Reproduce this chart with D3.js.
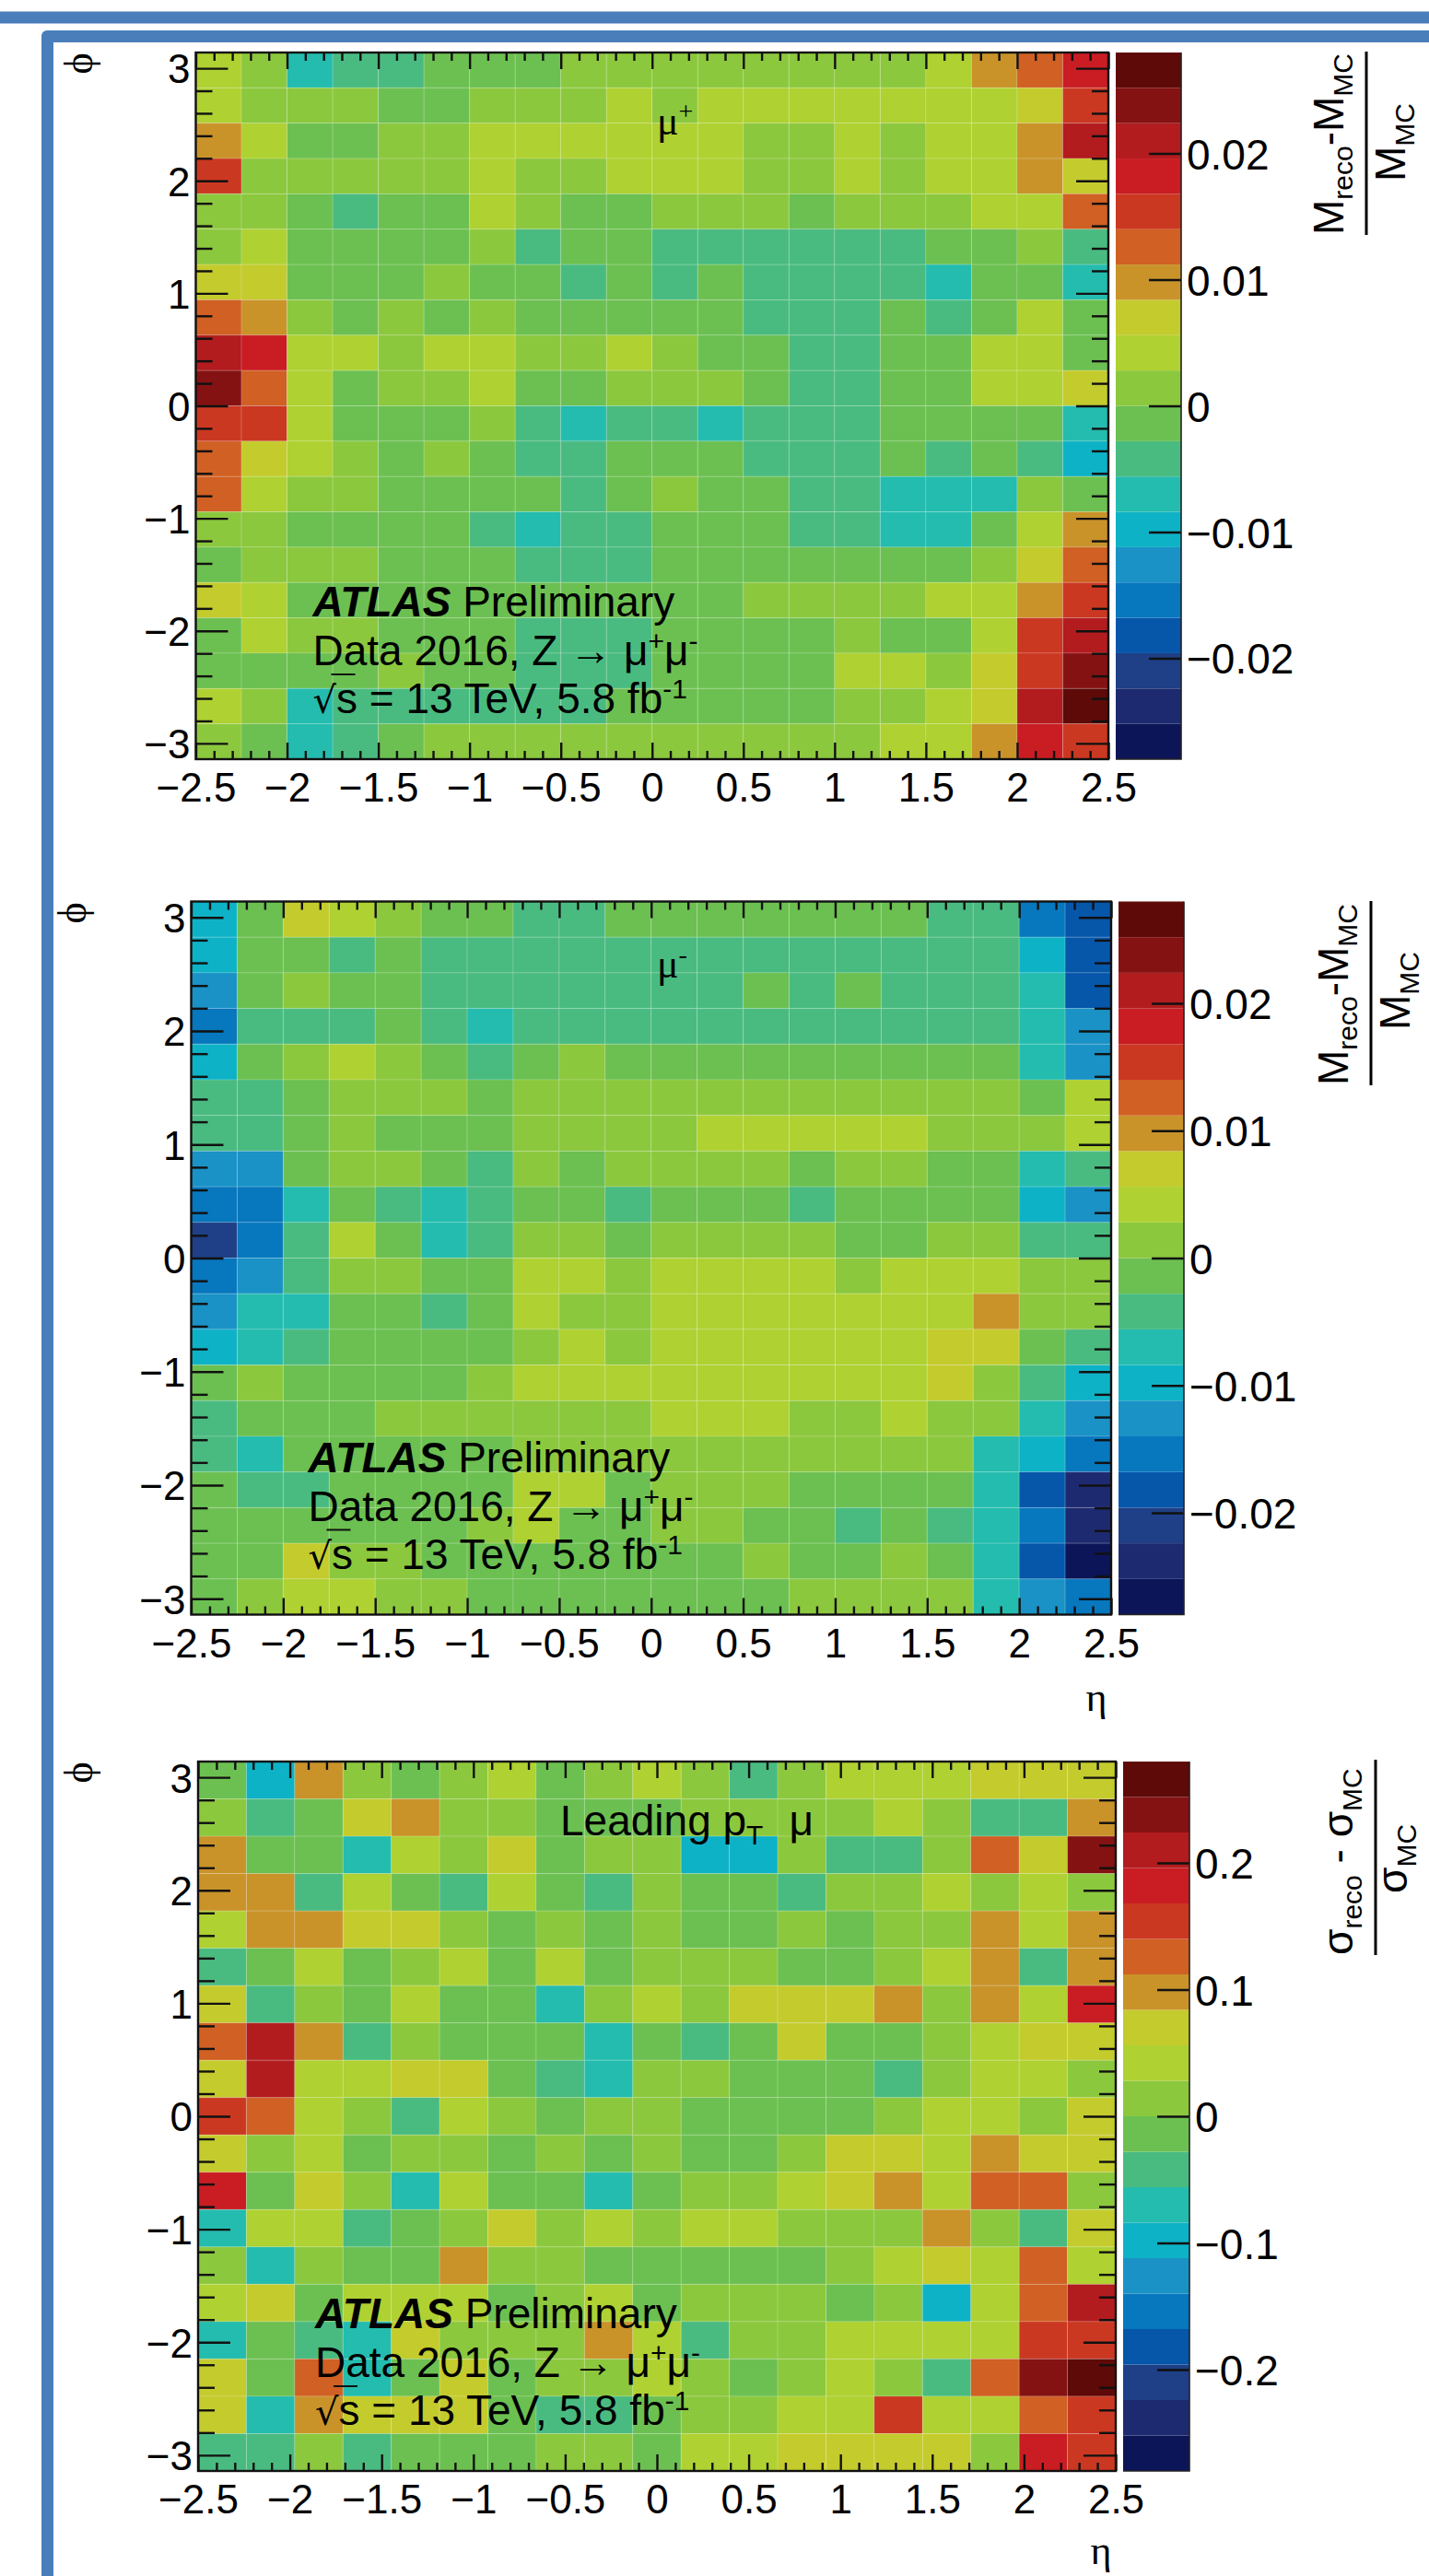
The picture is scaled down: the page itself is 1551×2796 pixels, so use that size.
<!DOCTYPE html>
<html>
<head>
<meta charset="utf-8">
<style>
  body { margin: 0; background: #fff; }
  text { font-family: "Liberation Sans", Arial, sans-serif; fill: #000; }
  .serif { font-family: "Liberation Serif", "DejaVu Serif", serif; }
</style>
<script src="https://cdn.jsdelivr.net/npm/d3@7"></script>
</head>
<body>
<svg id="chart" width="1551" height="2796"></svg>
<script>
// colour levels of the palette, bottom of the colour bar first
const levelColors = [
  "#0c1558", "#1e2a70", "#1f3f86", "#0656aa", "#0777be",
  "#1a92c6", "#0eb2c6", "#24bcae", "#4abb80", "#6cc051",
  "#8cc83e", "#afd132", "#c4cb2d", "#c9932a", "#d06023",
  "#cb3822", "#c91d23", "#b21c1f", "#851213", "#5e0a08",
];

const etaTicks = [-2.5, -2, -1.5, -1, -0.5, 0, 0.5, 1, 1.5, 2, 2.5];
const phiTicks = [-3, -2, -1, 0, 1, 2, 3];

// each cell is the contour level it falls in, -10 .. 9, first row is top (phi = pi)
const muPlus = [
  [1,0,-3,-2,-2,-1,-1,-1,0,0,0,0,0,0,0,0,1,3,4,6],
  [1,0,0,0,-1,-1,0,0,0,1,0,1,1,1,1,1,1,1,2,5],
  [3,1,-1,-1,0,0,1,1,1,1,1,1,0,0,1,0,1,1,3,7],
  [5,0,0,0,0,0,1,0,0,1,1,1,0,0,1,0,1,1,3,2],
  [0,0,-1,-2,-1,-1,1,0,-1,-1,0,0,0,-1,0,0,0,1,1,4],
  [0,1,-1,-1,-1,-1,0,-2,-1,-1,-2,-2,-2,-2,-2,-2,-1,-1,0,-2],
  [2,2,-1,-1,-1,0,-1,-1,-2,-1,-2,-1,-2,-2,-2,-2,-3,-1,-1,-3],
  [4,3,0,-1,0,-1,0,-1,-1,-1,-1,-1,-2,-2,-2,-1,-2,-1,1,-1],
  [7,6,1,1,0,1,1,0,0,1,0,-1,-1,-2,-2,-1,-1,1,1,-1],
  [8,4,1,-1,0,0,1,-1,-1,0,0,0,-1,-2,-2,-1,-1,1,1,2],
  [5,5,1,-1,-1,-1,0,-2,-3,-2,-2,-3,-2,-2,-2,-1,-1,-1,-1,-3],
  [4,2,1,0,-1,0,-1,-2,-2,-1,-1,-1,-2,-2,-2,-1,-2,-1,-2,-4],
  [4,1,0,0,-1,-1,-1,-1,-2,-1,0,-1,-1,-2,-2,-3,-3,-3,0,-1],
  [0,0,-1,-1,-1,-1,-2,-3,-2,-2,-1,-1,-1,-2,-2,-3,-3,-1,1,3],
  [-1,0,0,0,-1,-1,-1,-2,-2,-2,-1,-1,-1,-1,-1,-1,-1,0,2,4],
  [2,1,-1,-1,-1,-1,-1,-1,-1,-1,-1,-1,0,0,0,0,1,1,3,5],
  [-1,1,0,0,-1,-1,-1,-2,-2,-2,-1,-1,-1,-1,0,-1,-1,1,5,7],
  [-1,-1,-1,-1,0,-1,-1,-2,-2,-2,-1,-1,-1,-1,1,1,0,2,5,8],
  [1,0,-3,-2,-2,-2,-2,-2,-2,-1,-1,-1,-1,-1,0,0,1,2,7,9],
  [0,-1,-3,-2,-1,0,0,0,0,0,0,0,0,0,0,1,1,3,6,5],
];

const muMinus = [
  [-4,-1,2,1,0,-1,-1,-2,-2,-1,-1,-1,-1,-1,-1,-1,-2,-2,-6,-7],
  [-4,-1,-1,-2,-1,-2,-2,-2,-2,-2,-2,-2,-2,-2,-2,-2,-2,-2,-4,-7],
  [-5,-1,0,-1,-1,-2,-2,-2,-2,-2,-2,-2,-1,-2,-1,-2,-2,-2,-3,-7],
  [-6,-2,-2,-2,-1,-2,-3,-2,-2,-2,-2,-2,-2,-2,-2,-2,-2,-2,-3,-5],
  [-4,-1,0,1,0,-1,-2,-1,0,-1,-1,-1,-1,-1,-1,-1,-1,-1,-3,-5],
  [-2,-2,-1,0,0,0,-1,0,0,0,0,0,0,0,0,0,0,0,-1,1],
  [-2,-2,-1,0,-1,-1,-1,0,0,0,0,1,1,1,1,1,0,0,0,1],
  [-5,-5,-1,0,0,-1,-2,0,-1,0,0,0,0,-1,0,0,-1,-1,-3,-2],
  [-6,-6,-3,-1,-2,-3,-2,-1,-1,-2,-1,-1,-1,-2,-1,-1,-1,-1,-4,-5],
  [-8,-6,-2,1,-1,-3,-2,0,0,-1,0,0,0,0,-1,-1,0,0,-2,-2],
  [-6,-5,-2,0,0,-1,-1,1,1,0,1,1,1,1,0,1,1,1,0,0],
  [-5,-3,-3,-1,-1,-2,-1,1,0,0,1,1,1,1,1,1,1,3,0,0],
  [-4,-3,-2,-1,-1,-1,-1,0,1,0,1,1,1,1,1,1,2,2,-1,-2],
  [-1,0,-1,-1,-1,-1,0,1,1,1,1,1,1,1,1,1,2,0,-2,-4],
  [-2,-1,-1,-1,0,0,0,0,0,0,1,1,1,0,0,1,0,0,-3,-5],
  [-2,-3,-1,-1,-1,-1,-1,0,0,0,0,0,0,0,0,0,0,-3,-4,-6],
  [-1,-2,-2,-1,-1,-1,-1,1,1,-1,0,0,0,-1,-1,-1,-1,-3,-7,-9],
  [-1,-1,-1,-1,-1,-1,0,1,-1,-1,0,0,-1,-1,-2,-1,-2,-3,-6,-9],
  [-1,-1,2,0,0,-1,-1,-1,-1,-1,-1,-1,0,-1,-1,0,-1,-3,-7,-10],
  [-1,0,1,1,0,0,-1,-1,-1,-1,-1,-1,-1,0,0,0,0,-3,-5,-6],
];

const leadingMu = [
  [-1,-4,3,0,-1,0,1,-1,0,1,0,-2,0,1,1,1,2,2,2],
  [0,-2,-1,2,3,0,0,-1,-1,-1,0,0,0,0,1,0,-2,-2,3],
  [3,-1,-1,-3,1,0,2,-1,0,0,-4,-4,0,-2,-2,0,4,2,8],
  [3,3,-2,1,-1,-2,1,-1,-2,0,-1,-1,-2,0,0,1,0,1,0],
  [1,3,3,2,2,0,-1,0,-1,0,-1,-1,0,-1,0,0,3,1,3],
  [-2,-1,1,-1,0,1,-1,1,-1,0,0,0,-1,-1,0,1,3,-2,3],
  [2,-2,0,-1,1,-1,-1,-3,0,1,0,2,2,2,3,0,3,1,6],
  [4,7,3,-2,0,-1,-1,-1,-3,-1,-2,-1,2,-1,-1,0,1,2,2],
  [2,7,1,1,2,2,-1,-2,-3,0,0,-1,-1,-1,-2,0,1,1,0],
  [5,4,1,0,-2,1,0,-1,0,0,-1,-1,-1,-1,0,1,1,0,2],
  [2,0,1,-1,0,0,-1,0,-1,0,-1,-1,0,2,2,1,3,2,2],
  [6,-1,2,0,-3,1,-1,-1,-3,-1,0,0,1,2,3,1,4,4,0],
  [-3,1,1,-2,-1,0,2,0,1,0,1,1,0,0,0,3,0,-2,2],
  [0,-3,0,-1,-1,3,0,0,-1,-1,-1,-1,-1,0,1,2,1,4,1],
  [1,2,-1,1,1,1,-1,0,1,-1,0,0,0,-1,0,-4,1,4,7],
  [-3,-1,-2,-3,2,0,0,0,3,1,-2,0,0,1,1,1,1,5,5],
  [2,-1,4,-3,-1,2,-1,0,0,1,0,-1,0,1,0,-2,4,8,9],
  [2,-3,3,2,2,2,-1,-2,-2,-1,0,0,1,1,5,1,1,4,5],
  [-2,-2,0,-2,-1,-1,-1,0,0,-1,1,1,2,2,2,2,0,6,5],
];

const panels = [
  { cells: muPlus, zMax: 0.028, zTicks: [-0.02, -0.01, 0, 0.01, 0.02],
    left: 212.5, right: 1203, top: 57, bottom: 824, barLeft: 1211, barRight: 1282,
    phi: [87, 69], fracBar: 1483, fracTop: 56, fracBottom: 255, numX: 1458, denX: 1525, denY: 197,
    num: ["M", "reco", "-M", "MC"], den: ["M", "MC"] },
  { cells: muMinus, zMax: 0.028, zTicks: [-0.02, -0.01, 0, 0.01, 0.02],
    left: 207.5, right: 1206, top: 978.5, bottom: 1752.5, barLeft: 1214, barRight: 1285,
    phi: [80, 991], eta: [1190, 1857], fracBar: 1488, fracTop: 978, fracBottom: 1178, numX: 1463, denX: 1530, denY: 1118,
    num: ["M", "reco", "-M", "MC"], den: ["M", "MC"] },
  { cells: leadingMu, zMax: 0.28, zTicks: [-0.2, -0.1, 0, 0.1, 0.2],
    left: 215, right: 1211, top: 1912, bottom: 2682, barLeft: 1219, barRight: 1291,
    phi: [87, 1924], eta: [1195, 2783], fracBar: 1493, fracTop: 1910, fracBottom: 2122, numX: 1468, denX: 1527, denY: 2055,
    num: ["σ", "reco", " - σ", "MC"], den: ["σ", "MC"] },
];

const svg = d3.select("#chart");
const blue = "#4a7ebb";

// frame of the slide behind the plots
svg.append("rect").attr("x", 0).attr("y", 12.5).attr("width", 1551).attr("height", 13).attr("fill", blue);
svg.append("path")
  .attr("d", "M1551 33H51a6 6 0 0 0 -6 6V2796H58V46H1551Z")
  .attr("fill", blue);

function addAxis(g, axis, transform, fontSize) {
  const a = g.append("g").attr("transform", transform).call(axis);
  a.select(".domain").remove();
  a.selectAll("line").attr("stroke", "#111").attr("stroke-width", 2.4);
  a.selectAll("text").attr("font-size", fontSize);
  return a;
}

function drawFraction(g, parts, x, y, anchor) {
  const t = g.append("text")
    .attr("transform", `translate(${x},${y}) rotate(-90)`)
    .attr("font-size", 46)
    .attr("text-anchor", anchor || "start");
  parts.forEach((p, i) => {
    const sub = i % 2 == 1;
    t.append("tspan")
      .attr("font-size", sub ? 30 : 46)
      .attr("dy", i == 0 ? 0 : sub ? 10 : -10)
      .attr("xml:space", "preserve")
      .text(p);
  });
}

panels.forEach((p) => {
  const g = svg.append("g");
  const nBins = p.cells.length;

  const x = d3.scaleLinear().domain([-2.5, 2.5]).range([p.left, p.right]);
  const y = d3.scaleLinear().domain([-3.14, 3.14]).range([p.bottom, p.top]);
  const z = d3.scaleLinear().domain([-p.zMax, p.zMax]).range([p.bottom, p.top]);
  const color = d3.scaleQuantize().domain([-p.zMax, p.zMax]).range(levelColors);
  const levelValue = (l) => ((l + 0.5) * p.zMax) / 10;

  const cells = p.cells.flatMap((row, r) =>
    row.map((level, c) => ({ r, c, value: levelValue(level) }))
  );
  const etaEdge = d3.scaleLinear().domain([0, nBins]).range([-2.5, 2.5]);
  const phiEdge = d3.scaleLinear().domain([0, nBins]).range([3.14, -3.14]);

  g.append("g")
    .selectAll("rect")
    .data(cells)
    .join("rect")
    .attr("x", (d) => x(etaEdge(d.c)))
    .attr("y", (d) => y(phiEdge(d.r)))
    .attr("width", (d) => x(etaEdge(d.c + 1)) - x(etaEdge(d.c)))
    .attr("height", (d) => y(phiEdge(d.r + 1)) - y(phiEdge(d.r)))
    .attr("fill", (d) => color(d.value))
    .attr("stroke", "rgba(255,255,255,0.16)")
    .attr("stroke-width", 1);

  // colour bar
  const barLevels = d3.range(20);
  const barEdge = d3.scaleLinear().domain([0, 20]).range([-p.zMax, p.zMax]);
  g.append("g")
    .selectAll("rect")
    .data(barLevels)
    .join("rect")
    .attr("x", p.barLeft)
    .attr("width", p.barRight - p.barLeft)
    .attr("y", (d) => z(barEdge(d + 1)))
    .attr("height", (d) => z(barEdge(d)) - z(barEdge(d + 1)))
    .attr("fill", (d) => levelColors[d]);

  const etaMinor = d3.range(-25, 26).map((v) => v / 10).filter((v) => !etaTicks.includes(v));
  const phiMinor = d3.range(-15, 16).map((v) => v / 5).filter((v) => !phiTicks.includes(v));
  const noLabel = () => "";

  // frame ticks
  addAxis(g, d3.axisBottom(x).tickValues(etaTicks).tickSize(-18).tickPadding(15).tickFormat(d3.format("~g")),
    `translate(0,${p.bottom})`, 44);
  addAxis(g, d3.axisBottom(x).tickValues(etaMinor).tickSize(-9).tickFormat(noLabel), `translate(0,${p.bottom})`, 0);
  addAxis(g, d3.axisTop(x).tickValues(etaTicks).tickSize(-18).tickFormat(noLabel), `translate(0,${p.top})`, 0);
  addAxis(g, d3.axisTop(x).tickValues(etaMinor).tickSize(-9).tickFormat(noLabel), `translate(0,${p.top})`, 0);

  addAxis(g, d3.axisLeft(y).tickValues(phiTicks).tickSize(-35).tickPadding(6).tickFormat(d3.format("~g")),
    `translate(${p.left},0)`, 44).selectAll("text").attr("dy", "0.36em");
  addAxis(g, d3.axisLeft(y).tickValues(phiMinor).tickSize(-18).tickFormat(noLabel), `translate(${p.left},0)`, 0);
  addAxis(g, d3.axisRight(y).tickValues(phiTicks).tickSize(-35).tickFormat(noLabel), `translate(${p.right},0)`, 0);
  addAxis(g, d3.axisRight(y).tickValues(phiMinor).tickSize(-18).tickFormat(noLabel), `translate(${p.right},0)`, 0);

  addAxis(g, d3.axisRight(z).tickValues(p.zTicks).tickSize(-35).tickPadding(6).tickFormat(d3.format("~g")),
    `translate(${p.barRight},0)`, 46).selectAll("text").attr("dy", "0.36em");

  g.append("rect")
    .attr("x", p.left).attr("y", p.top)
    .attr("width", p.right - p.left).attr("height", p.bottom - p.top)
    .attr("fill", "none").attr("stroke", "#111").attr("stroke-width", 2.4);
  g.append("path")
    .attr("d", `M${p.barLeft} ${p.bottom}H${p.barRight}V${p.top}`)
    .attr("fill", "none").attr("stroke", "#222").attr("stroke-width", 1.6);

  // axis titles
  g.append("text").attr("class", "serif")
    .attr("transform", `translate(${p.phi[0]},${p.phi[1]}) rotate(-90)`)
    .attr("text-anchor", "middle").attr("dy", "0.3em")
    .attr("font-size", 44).text("ϕ");
  if (p.eta) {
    g.append("text").attr("class", "serif")
      .attr("x", p.eta[0]).attr("y", p.eta[1])
      .attr("text-anchor", "middle")
      .attr("font-size", 44).text("η");
  }

  // colour bar title drawn as a fraction
  drawFraction(g, p.num, p.numX, p.fracBottom);
  drawFraction(g, p.den, p.denX, p.denY);
  g.append("line")
    .attr("x1", p.fracBar).attr("x2", p.fracBar)
    .attr("y1", p.fracTop).attr("y2", p.fracBottom)
    .attr("stroke", "#000").attr("stroke-width", 3);

  // ATLAS block
  const tx = p.left + 127;
  const atlas = g.append("text").attr("x", tx).attr("y", p.bottom - 155).attr("font-size", 46);
  atlas.append("tspan").attr("font-weight", "bold").attr("font-style", "italic").text("ATLAS");
  atlas.append("tspan").text(" Preliminary");

  const dataLine = g.append("text").attr("x", tx).attr("y", p.bottom - 102).attr("font-size", 46);
  dataLine.append("tspan").text("Data 2016, Z → μ");
  dataLine.append("tspan").attr("font-size", 30).attr("dy", -16).text("+");
  dataLine.append("tspan").attr("dy", 16).text("μ");
  dataLine.append("tspan").attr("font-size", 30).attr("dy", -16).text("-");

  const lumi = g.append("text").attr("x", tx).attr("y", p.bottom - 50).attr("font-size", 46);
  lumi.append("tspan").attr("font-family", "DejaVu Sans").attr("font-size", 40).text("√");
  lumi.append("tspan").text("s = 13 TeV, 5.8 fb");
  lumi.append("tspan").attr("font-size", 30).attr("dy", -16).text("-1");
  g.append("line")
    .attr("x1", tx + 20).attr("x2", tx + 46)
    .attr("y1", p.bottom - 92).attr("y2", p.bottom - 92)
    .attr("stroke", "#111").attr("stroke-width", 2);
});

// panel labels
const muPlusLabel = svg.append("text").attr("x", 713).attr("y", 146).attr("font-size", 44).attr("class", "serif");
muPlusLabel.append("tspan").text("μ");
muPlusLabel.append("tspan").attr("font-size", 28).attr("dy", -16).text("+");

const muMinusLabel = svg.append("text").attr("x", 713).attr("y", 1061).attr("font-size", 44).attr("class", "serif");
muMinusLabel.append("tspan").text("μ");
muMinusLabel.append("tspan").attr("font-size", 28).attr("dy", -16).text("-");

const leadLabel = svg.append("text").attr("x", 608).attr("y", 1992).attr("font-size", 46);
leadLabel.append("tspan").text("Leading p");
leadLabel.append("tspan").attr("font-size", 30).attr("dy", 10).text("T");
leadLabel.append("tspan").attr("dx", 28).attr("dy", -10).text("μ");
</script>
</body>
</html>
